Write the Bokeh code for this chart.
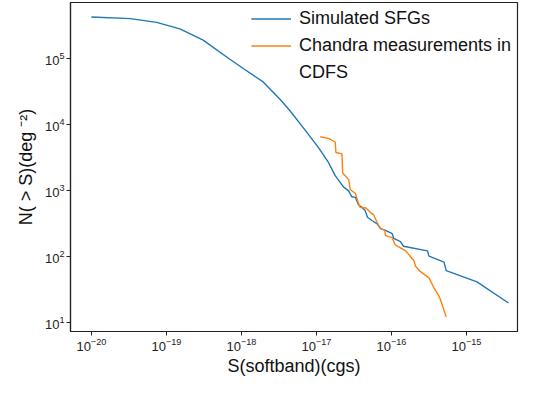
import numpy as np
from bokeh.plotting import figure
from bokeh.models import Legend, LegendItem, FixedTicker, Range1d
from bokeh.embed import file_html
from bokeh.resources import INLINE

# Simulated SFGs: cumulative counts (log10 S, log10 N)
sim_log_s = [-20.00, -19.48, -19.13, -18.82, -18.51, -18.15, -17.97, -17.71, -17.48,
             -17.35, -17.13, -16.97, -16.84, -16.75, -16.64, -16.57, -16.53, -16.48,
             -16.44, -16.39, -16.35, -16.32, -16.26, -16.19, -16.15, -16.08, -15.99,
             -15.97, -15.88, -15.84, -15.52, -15.50, -15.30, -15.27, -14.86, -14.44]
sim_log_n = [5.634, 5.61, 5.552, 5.454, 5.283, 4.99, 4.85, 4.65, 4.38,
             4.21, 3.89, 3.65, 3.43, 3.23, 3.06, 3.00, 2.91, 2.90,
             2.79, 2.745, 2.70, 2.60, 2.55, 2.50, 2.43, 2.40, 2.35,
             2.28, 2.23, 2.16, 2.09, 2.01, 1.92, 1.79, 1.62, 1.30]

# Chandra measurements in CDFS (log10 S, log10 N)
cdfs_log_s = [-16.95, -16.84, -16.75, -16.74, -16.66, -16.65, -16.57, -16.55, -16.48,
              -16.44, -16.42, -16.34, -16.28, -16.24, -16.17, -16.14, -16.09, -16.08,
              -15.99, -15.95, -15.81, -15.70, -15.68, -15.63, -15.50, -15.43, -15.36, -15.27]
cdfs_log_n = [3.82, 3.795, 3.74, 3.58, 3.56, 3.27, 3.17, 3.02, 2.96,
              2.81, 2.75, 2.74, 2.67, 2.64, 2.47, 2.43, 2.40, 2.32,
              2.29, 2.18, 2.09, 1.94, 1.86, 1.79, 1.68, 1.52, 1.39, 1.09]

x_ticks = [1e-20, 1e-19, 1e-18, 1e-17, 1e-16, 1e-15]
y_ticks = [1e1, 1e2, 1e3, 1e4, 1e5]

sim_s = 10 ** np.array(sim_log_s)
sim_n = 10 ** np.array(sim_log_n)
cdfs_s = 10 ** np.array(cdfs_log_s)
cdfs_n = 10 ** np.array(cdfs_log_n)

p = figure(width=519, height=378, x_axis_type="log", y_axis_type="log",
           x_range=Range1d(10 ** -20.278, 10 ** -14.32),
           y_range=Range1d(10 ** 0.868, 10 ** 5.854),
           output_backend="svg", toolbar_location=None,
           min_border_left=70, min_border_right=2, min_border_top=2, min_border_bottom=30)

r1 = p.line(sim_s, sim_n, line_color="#1f77b4", line_width=1.4)
r2 = p.line(cdfs_s, cdfs_n, line_color="#ff7f0e", line_width=1.4)
r_blank = p.line([], [], line_color="#ff7f0e", line_alpha=0)

p.xgrid.visible = False
p.ygrid.visible = False
p.outline_line_color = "#222222"
p.outline_line_width = 1.2
p.background_fill_color = "white"
p.border_fill_color = "white"

for ax in (p.xaxis, p.yaxis):
    ax.axis_line_color = "#222222"
    ax.axis_line_width = 1.2
    ax.major_tick_line_color = "#222222"
    ax.major_tick_in = 0
    ax.major_tick_out = 4
    ax.minor_tick_line_color = None
    ax.major_label_text_font = "Liberation Sans"
    ax.major_label_text_font_size = "13px"
    ax.major_label_text_color = "#222222"
    ax.axis_label_text_font = "Liberation Sans"
    ax.axis_label_text_font_style = "normal"
    ax.axis_label_text_font_size = "18px"
    ax.axis_label_text_color = "#111111"
    ax.major_label_standoff = 2
    ax.axis_label_standoff = 2

p.xaxis.ticker = FixedTicker(ticks=x_ticks)
p.yaxis.ticker = FixedTicker(ticks=y_ticks)
p.xaxis.axis_label = "S(softband)(cgs)"
p.yaxis.axis_label = "N( > S)(deg ⁻²)"
p.yaxis.axis_label_standoff = 6

legend = Legend(items=[LegendItem(label="Simulated SFGs", renderers=[r1]),
                       LegendItem(label="Chandra measurements in", renderers=[r2]),
                       LegendItem(label="CDFS", renderers=[r_blank])],
                location="top_right", border_line_color=None, background_fill_alpha=0,
                label_text_font="Liberation Sans", label_text_font_size="18px",
                label_text_color="#111111", label_height=21, glyph_height=21,
                glyph_width=40, label_standoff=8, spacing=6, padding=0, margin=6)
p.add_layout(legend)

open("out.html", "w").write(file_html(p, INLINE))
